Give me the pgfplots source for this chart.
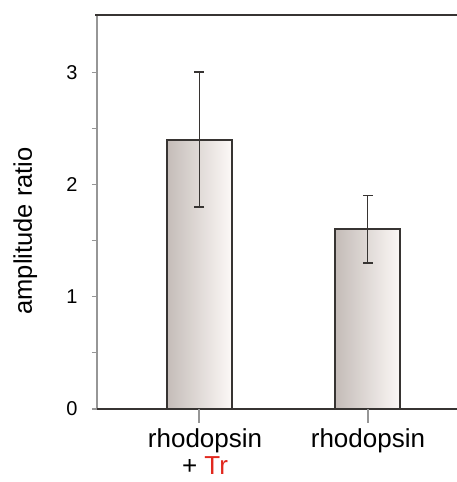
\documentclass[border=0pt]{standalone}
\usepackage{fontspec}
\setmainfont{Liberation Sans}
\usepackage{pgfplots}
\pgfplotsset{compat=1.18}
\definecolor{barL}{RGB}{196,188,184}
\definecolor{barR}{RGB}{252,248,246}
\definecolor{edge}{RGB}{55,52,50}
\definecolor{axgray}{RGB}{150,150,150}
\definecolor{trred}{RGB}{225,40,30}
\pgfplotsset{onebar/.style={ybar, bar width=65pt, draw=edge, line width=2pt,
  left color=barL, right color=barR,
  error bars/.cd, y dir=both, y explicit,
  error bar style={edge, line width=1pt},
  error mark options={rotate=90, mark size=5pt, edge, line width=1.5pt}}}
\begin{document}
\begin{tikzpicture}
\useasboundingbox (-97pt,-73pt) rectangle (360pt,409pt);
\begin{axis}[
  scale only axis, width=360pt, height=394pt,
  xmin=-0.604, xmax=1.527, ymin=0, ymax=3.51,
  axis line style={draw=none},
  xtick={0,1},
  xticklabels={{\hspace*{12pt}rhodopsin\\\hspace*{12pt}+ \textcolor{trred}{Tr}},{rhodopsin}},
  xticklabel style={align=center, font=\fontsize{26}{27}\selectfont, yshift=-13pt, inner ysep=1pt},
  xtick style={draw=none},
  ytick={0,1,2,3}, minor ytick={0.5,1.5,2.5},
  tick align=outside, major tick length=5pt, minor tick length=5pt,
  ytick pos=left,
  ytick style={axgray, line width=1.2pt},
  minor y tick style={axgray, line width=1.2pt},
  yticklabel style={font=\fontsize{20}{22}\selectfont, xshift=-11pt},
  /pgf/number format/assume math mode=true,
  ylabel={amplitude ratio},
  ylabel style={at={(axis description cs:-0.199,0.452)}, anchor=center,
    font=\fontsize{25.5}{28}\selectfont},
  clip=false,
]
\addplot[onebar] coordinates {(0,2.4) +- (0,0.6)};
\addplot[onebar] coordinates {(1,1.6) +- (0,0.3)};
\draw[axgray, line width=2pt] (rel axis cs:0,0) -- (rel axis cs:0,1);
\draw[edge, line width=2pt] (rel axis cs:0,0) -- (rel axis cs:1,0);
\draw[edge, line width=2pt] (rel axis cs:-0.005,1) -- (rel axis cs:1,1);
\draw[axgray, line width=1.2pt] (axis cs:0,0) -- ++(0pt,-14pt);
\draw[axgray, line width=1.2pt] (axis cs:1,0) -- ++(0pt,-14pt);
\end{axis}
\end{tikzpicture}
\end{document}
